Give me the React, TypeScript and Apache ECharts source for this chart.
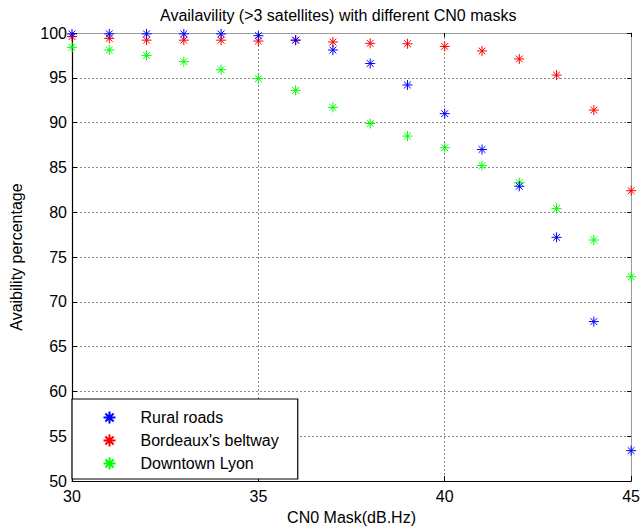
import React, { useEffect, useRef } from "react";
import * as echarts from "echarts";

const masks = [30, 31, 32, 33, 34, 35, 36, 37, 38, 39, 40, 41, 42, 43, 44, 45];
const ruralRoads = [99.9, 99.9, 99.9, 99.9, 99.9, 99.7, 99.2, 98.1, 96.6, 94.2, 91.0, 87.0, 82.9, 77.2, 67.8, 53.4];
const bordeauxBeltway = [99.6, 99.4, 99.2, 99.2, 99.2, 99.1, 99.2, 99.0, 98.85, 98.8, 98.5, 98.0, 97.1, 95.3, 91.4, 82.4];
const downtownLyon = [98.4, 98.1, 97.5, 96.8, 95.9, 94.9, 93.6, 91.7, 89.9, 88.5, 87.2, 85.2, 83.3, 80.4, 76.9, 72.8];
const seriesNames = ["Rural roads", "Bordeaux's beltway", "Downtown Lyon"];
const seriesColors = ["#0000ff", "#ff0000", "#00ff00"];
const xTicks = { min: 30, max: 45, interval: 5 };
const yTicks = { min: 50, max: 100, interval: 5 };

const STAR = "path://M5,0 L5,10 M0,5 L10,5 M1.6,1.6 L8.4,8.4 M1.6,8.4 L8.4,1.6";
const FONT = "Liberation Sans, Arial, sans-serif";

export default function App() {
  const ref = useRef<HTMLDivElement>(null);
  useEffect(() => {
    document.body.style.margin = "0";
    const chart = echarts.init(ref.current!, null, { renderer: "svg" });
    const all = [ruralRoads, bordeauxBeltway, downtownLyon];
    const series = all.map((vals, i) => ({
      name: seriesNames[i],
      type: "scatter",
      xAxisIndex: 0,
      yAxisIndex: 0,
      data: masks.map((m, j) => [m, vals[j]]),
      symbol: STAR,
      symbolSize: 10,
      symbolKeepAspect: true,
      itemStyle: { color: "none", borderColor: seriesColors[i], borderWidth: 1, opacity: 1 },
      z: 3 - i + 2,
    }));
    const gridLine = { show: true, lineStyle: { color: "#8a8a8a", type: [2, 2], width: 1 } };
    chart.setOption({
      animation: false,
      textStyle: { fontFamily: FONT },
      title: {
        text: "Availavility (>3 satellites) with different CN0 masks",
        left: 160,
        top: 7,
        padding: 0,
        textStyle: { fontSize: 16, fontWeight: "normal", color: "#000", fontFamily: FONT },
      },
      grid: { left: 67, right: 8, top: 33, bottom: 48, containLabel: false, show: false },
      xAxis: [
        {
          type: "value",
          ...xTicks,
          position: "bottom",
          name: "CN0 Mask(dB.Hz)",
          nameLocation: "middle",
          nameGap: 27,
          nameTextStyle: { fontSize: 16, color: "#000", fontFamily: FONT },
          axisLine: { show: true, lineStyle: { color: "#000", width: 1.2 } },
          axisTick: { show: true, inside: true, length: 5, lineStyle: { color: "#000" } },
          axisLabel: { fontSize: 16, color: "#000", margin: 7, fontFamily: FONT },
          splitLine: gridLine,
        },
        {
          type: "value",
          ...xTicks,
          position: "top",
          axisLine: { show: true, lineStyle: { color: "#9a9a9a", width: 1 } },
          axisTick: { show: true, inside: true, length: 4, lineStyle: { color: "#000" } },
          axisLabel: { show: false },
          splitLine: { show: false },
        },
      ],
      yAxis: [
        {
          type: "value",
          ...yTicks,
          position: "left",
          name: "Avaibility percentage",
          nameLocation: "middle",
          nameGap: 48,
          nameTextStyle: { fontSize: 16, color: "#000", fontFamily: FONT },
          axisLine: { show: true, lineStyle: { color: "#000", width: 1.2 } },
          axisTick: { show: true, inside: true, length: 5, lineStyle: { color: "#000" } },
          axisLabel: { fontSize: 16, color: "#000", margin: 5, fontFamily: FONT },
          splitLine: gridLine,
        },
        {
          type: "value",
          ...yTicks,
          position: "right",
          axisLine: { show: true, lineStyle: { color: "#9a9a9a", width: 1 } },
          axisTick: { show: true, inside: true, length: 4, lineStyle: { color: "#000" } },
          axisLabel: { show: false },
          splitLine: { show: false },
        },
      ],
      legend: {
        orient: "vertical",
        left: 72,
        top: 399,
        padding: [10, 19, 7, 29],
        itemWidth: 52,
        itemHeight: 12,
        itemGap: 6,
        backgroundColor: "#fff",
        borderColor: "#000",
        borderWidth: 1.2,
        borderRadius: 0,
        textStyle: { fontSize: 16, color: "#000", fontFamily: FONT },
        data: seriesNames,
      },
      series,
    });
    return () => chart.dispose();
  }, []);
  return <div ref={ref} style={{ position: "fixed", left: 0, top: 0, width: 643, height: 530, background: "#fff" }} />;
}
